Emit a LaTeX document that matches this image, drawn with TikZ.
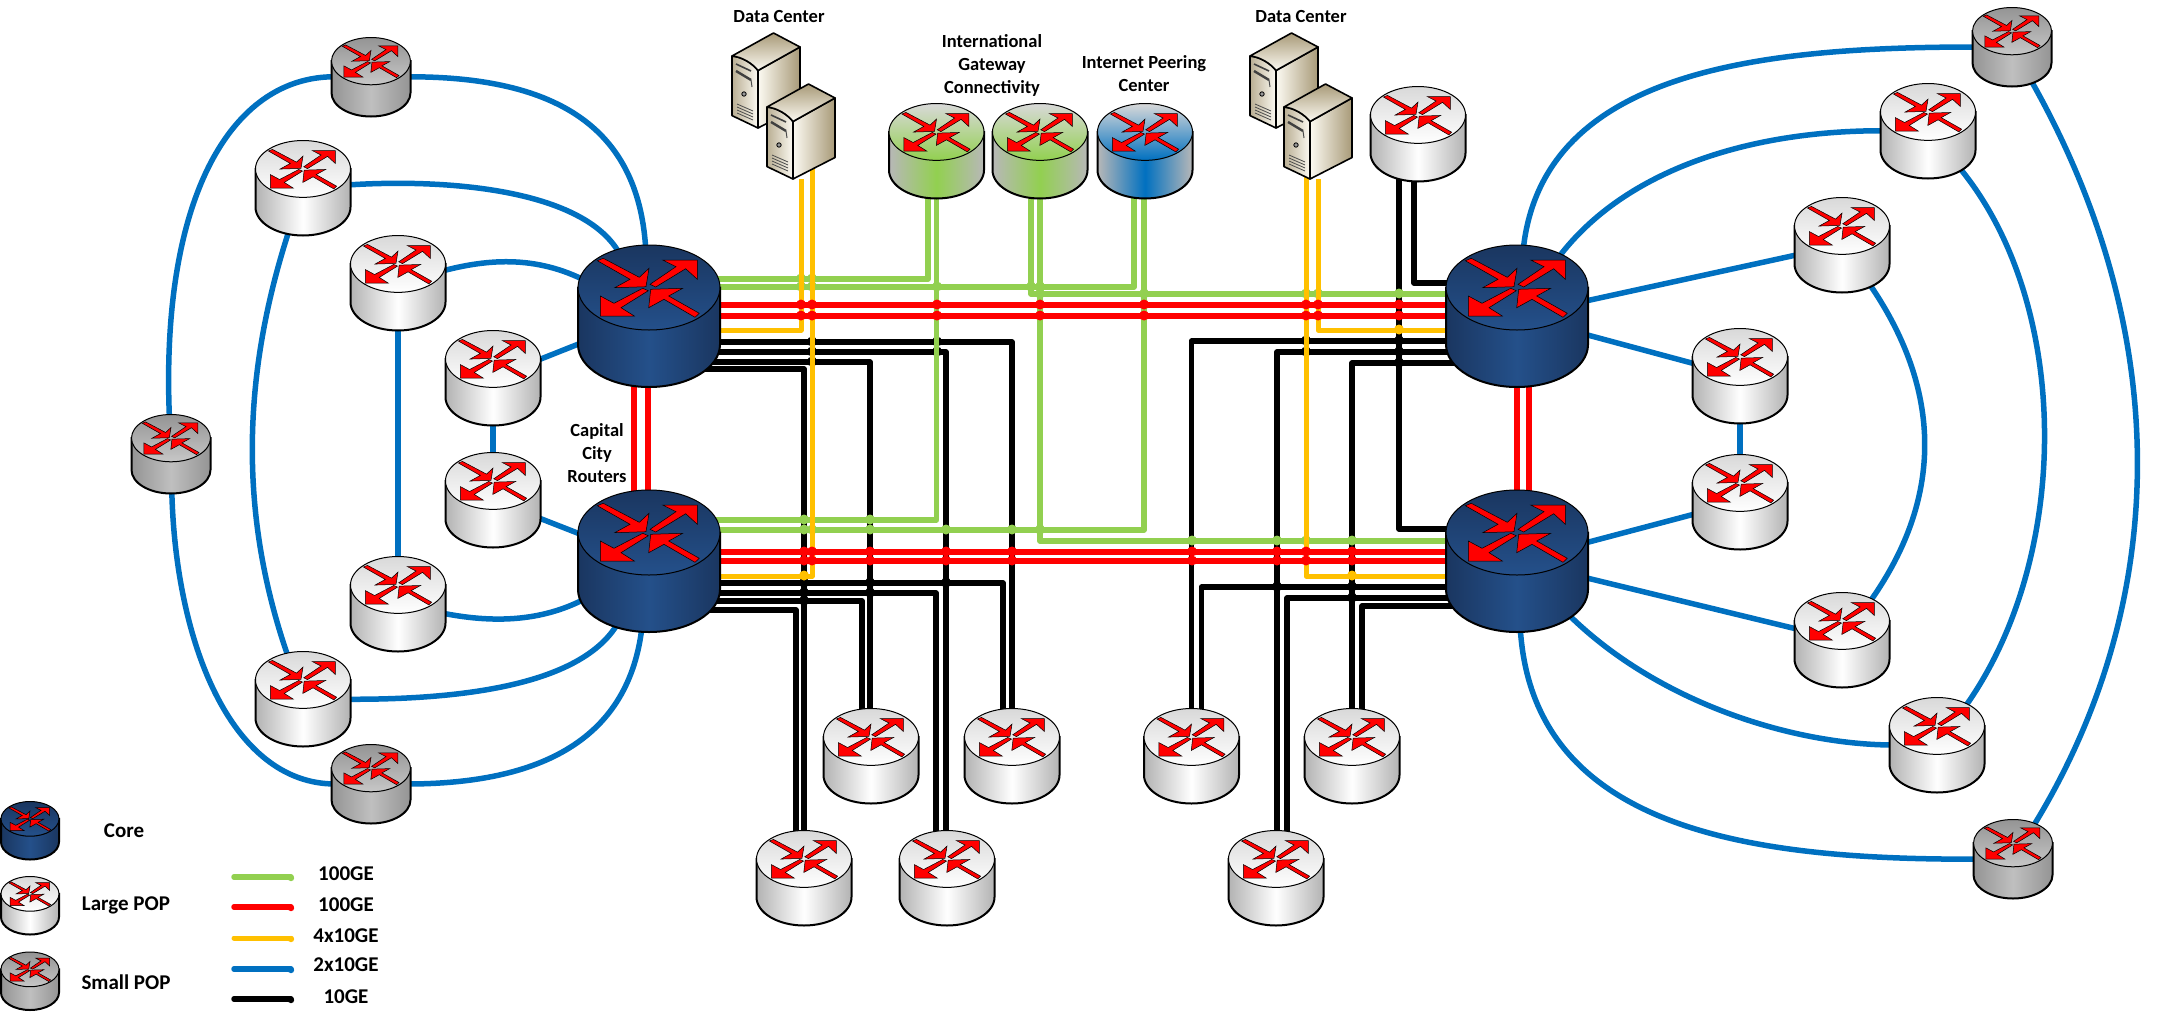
\documentclass[tikz,border=0pt]{standalone}
\usepackage{fontspec}
\setmainfont{Carlito}
\usetikzlibrary{calc}
\pgfdeclarelayer{links}
\pgfsetlayers{links,main}

\tikzset{
    coreside/.style={left color=coreedge,right color=coreedge,middle color=corelight},
    coretop/.style={top color=coreedge,bottom color=corelight},
    largeside/.style={left color=black!30,right color=black!30,middle color=white},
    largetop/.style={top color=black!15,bottom color=white},
    smallside/.style={left color=black!42,right color=black!42,middle color=black!25},
    smalltop/.style={top color=black!42,bottom color=black!22},
    gateside/.style={left color=black!28,right color=black!28,middle color=gegreen},
    gatetop/.style={top color=black!15,bottom color=gegreen},
    peerside/.style={left color=black!28,right color=black!28,middle color=geblue},
    peertop/.style={top color=black!15,bottom color=geblue},
    routerbox/.style={circle,inner sep=0pt,outer sep=0pt},
    routerarrow/.style={fill=red,draw=black,line width=.5pt,line join=miter},
    srvbox/.style={rectangle,inner sep=0pt,outer sep=0pt,minimum width=68pt,minimum height=95pt},
    srvface/.style={draw=black,line width=1.6pt,line join=round},
}

% name, x, y, width, palette
\newcommand{\router}[5]{
    \node[routerbox,minimum size={#4pt*0.9}] (#1) at (#2,#3) {};
    \begin{scope}[shift={(#2,#3)},scale={#4/142}]
        \path[draw=black,line width=2pt,#5side] (-71,-28.5) -- (-71,28.5) .. controls (-71,52) and (-39.2,71) .. (0,71)
            .. controls (39.2,71) and (71,52) .. (71,28.5) -- (71,-28.5) -- cycle;
        \path[draw=black,line width=1pt,#5top] (0,-28.5) ellipse [x radius=71,y radius=42.5];
        \filldraw[routerarrow] (-51.7,-55.3) -- (-45.7,-57.7) -- (-9.7,-38.7) -- (0,-47.7) -- (-3,-29.3) -- (-34.3,-28.3) -- (-19,-36.7) -- cycle;
        \filldraw[routerarrow] (1,-31.7) -- (6.7,-29) -- (36.7,-47.3) -- (48.3,-36.7) -- (48.3,-56) -- (13.7,-56) -- (27,-49.3) -- cycle;
        \filldraw[routerarrow] (-6.3,-27.7) -- (-0.7,-25.3) -- (-28,-8.3) -- (-14.7,0) -- (-48.7,0) -- (-48.7,-20) -- (-35,-12.7) -- cycle;
        \filldraw[routerarrow] (50.3,-2.7) -- (46,1.3) -- (15,-16.7) -- (-0.3,-8.3) -- (1.7,-26.7) -- (33.7,-27.7) -- (19.7,-20) -- cycle;
    \end{scope}
}

% name, left, top
\newcommand{\server}[3]{
    \node[srvbox] (#1) at (#2+34,#3+47.5) {};
    \begin{scope}[shift={(#2,#3)}]
        \path[srvface,left color=srvlight,right color=srvdark] (26,37.5) -- (68,14) -- (68,73.5) -- (26,95) -- cycle;
        \path[srvface,left color=srvdark!80,right color=srvlight] (0,23) .. controls (10,24) and (20,30) .. (26,37.5) -- (26,95) -- (0,82.6) -- cycle;
        \path[srvface,top color=srvdark,bottom color=srvlight] (0,23) -- (41.5,0) -- (68,14) -- (26,37.5) .. controls (20,30) and (10,24) .. (0,23) -- cycle;
        \draw[line width=1.6pt,black!75] (4,31) -- (19,38);
        \draw[line width=2.4pt,black!75] (4,38) -- (19,47);
        \draw[line width=1pt,black!70] (19,47) -- (20,54);
        \draw[line width=.8pt,fill=black!40] (12,61) circle[radius=2.2pt];
        \foreach \vy in {71,74,77,80}
            \draw[line width=.8pt,black!70] (5,\vy) -- (21,\vy+7);
    \end{scope}
}

\begin{document}
\begin{tikzpicture}[x=1pt,y=-1pt]
    \definecolor{gegreen}{RGB}{146,208,80}
    \definecolor{gered}{RGB}{255,0,0}
    \definecolor{geyellow}{RGB}{255,192,0}
    \definecolor{geblue}{RGB}{0,112,192}
    \definecolor{coreedge}{RGB}{26,54,96}
    \definecolor{corelight}{RGB}{36,80,138}
    \definecolor{srvlight}{RGB}{252,250,242}
    \definecolor{srvdark}{RGB}{168,154,120}

    \tikzstyle{gline}=[draw=gegreen,line width=5.5pt,line join=round]
    \tikzstyle{rline}=[draw=gered,line width=5.5pt,line join=round]
    \tikzstyle{yline}=[draw=geyellow,line width=5pt,line join=round]
    \tikzstyle{bline}=[draw=geblue,line width=5.5pt,line join=round]
    \tikzstyle{kline}=[draw=black,line width=5.5pt,line join=round]
    \tikzstyle{tag}=[inner sep=0pt,align=center,text=black,font=\fontsize{18.5}{22.6}\selectfont\bfseries]
    \tikzstyle{keytag}=[inner sep=0pt,align=center,text=black,font=\fontsize{21}{25}\selectfont\bfseries]

    \useasboundingbox (0,0) rectangle (2168,1020);

    % core
    \router{cTL}{649}{316}{142}{core}
    \router{cBL}{649}{561}{142}{core}
    \router{cTR}{1517}{316}{142}{core}
    \router{cBR}{1517}{561}{142}{core}

    % left side
    \router{sT}{371}{77}{79}{small}
    \router{sB}{371}{784}{79}{small}
    \router{sL}{171}{454}{79}{small}
    \router{la}{303}{188}{95}{large}
    \router{lb}{398}{283}{95}{large}
    \router{lc}{493}{378}{95}{large}
    \router{ld}{493}{500}{95}{large}
    \router{le}{398}{604}{95}{large}
    \router{lf}{303}{699}{95}{large}

    % bottom
    \router{ba}{871}{756}{95}{large}
    \router{bb}{1012}{756}{95}{large}
    \router{bc}{804}{878}{95}{large}
    \router{bd}{947}{878}{95}{large}
    \router{be}{1191.5}{756}{95}{large}
    \router{bf}{1352}{756}{95}{large}
    \router{bg}{1276}{878}{95}{large}

    % right side
    \router{sTR}{2012}{47}{79}{small}
    \router{sBR}{2013}{859}{79}{small}
    \router{ra}{1928}{131}{95}{large}
    \router{rb}{1842}{245}{95}{large}
    \router{rc}{1740}{376}{95}{large}
    \router{rd}{1740}{502}{95}{large}
    \router{re}{1842}{640}{95}{large}
    \router{rf}{1937}{745}{95}{large}

    % top
    \router{top}{1418}{134}{95}{large}
    \router{igwA}{936.5}{151}{95}{gate}
    \router{igwB}{1040}{151}{95}{gate}
    \router{ipc}{1145}{151}{95}{peer}
    \server{srvA}{732}{33}
    \server{srvB}{767}{84}
    \server{srvC}{1250}{33}
    \server{srvD}{1284}{84}

    % labels
    \node[tag] (dcA) at (779,17) {Data Center};
    \node[tag] (dcB) at (1301,17) {Data Center};
    \node[tag] (igwtag) at (992,65.5) {International\\Gateway\\Connectivity};
    \node[tag] (ipctag) at (1144,73.5) {Internet Peering\\Center};
    \node[tag] (captag) at (597,453) {Capital\\City\\Routers};

    % key
    \router{kC}{30}{830.5}{58}{core}
    \router{kL}{30}{905.5}{58}{large}
    \router{kS}{30}{981}{58}{small}
    \node[keytag] (kCt) at (124,831) {Core};
    \node[keytag] (kLt) at (126,905) {Large POP};
    \node[keytag] (kSt) at (126,982) {Small POP};
    \foreach \kn/\ks/\kc/\ky/\kty/\kt in {a/gline/gegreen/877/874/100GE,b/rline/gered/907/905/100GE,c/yline/geyellow/938/936/4x10GE,d/bline/geblue/969/965/2x10GE,e/kline/black/999/997/10GE}{
        \coordinate (k\kn1) at (234,\ky);
        \coordinate (k\kn2) at (291,\ky);
        \draw[\ks,line cap=round] (k\kn1) -- (k\kn2);
        \fill[\kc] (291,\ky+1) circle[radius=3.2pt];
        \node[keytag] (k\kn t) at (346,\kty) {\kt};
    }

    \begin{pgfonlayer}{links}
        % 10GE
        \draw[kline] ($(cTL)+(0,53)$) -| (bc);
        \draw[kline] ($(cTL)+(0,46)$) -| ($(ba)+(-1,0)$);
        \draw[kline] ($(cTL)+(0,36)$) -| ($(bd)+(-1,0)$);
        \draw[kline] ($(cTL)+(0,26)$) -| (bb);
        \draw[kline] ($(cBL)+(0,49)$) -| ($(bc)+(-8,0)$);
        \draw[kline] ($(cBL)+(0,40)$) -| ($(ba)+(-9,0)$);
        \draw[kline] ($(cBL)+(0,32)$) -| ($(bd)+(-11,0)$);
        \draw[kline] ($(cBL)+(0,22)$) -| ($(bb)+(-9,0)$);
        \draw[kline] ($(cTR)+(0,25)$) -| (be);
        \draw[kline] ($(cTR)+(0,36)$) -| ($(bg)+(1,0)$);
        \draw[kline] ($(cTR)+(0,47)$) -| (bf);
        \draw[kline] ($(cBR)+(0,26)$) -| ($(be)+(10,0)$);
        \draw[kline] ($(cBR)+(0,37)$) -| ($(bg)+(11,0)$);
        \draw[kline] ($(cBR)+(0,45)$) -| ($(bf)+(10,0)$);
        \draw[kline] ($(cTR)+(0,-33)$) -| ($(top)+(-4,0)$);
        \draw[kline] ($(cBR)+(0,-32)$) -| ($(top)+(-19,0)$);
        \foreach \hx/\hy in {812/342,937/342,812/352,937/352,812/362,804/583,870/583,946/583,804/593,870/593,804/601,1306/341,1399/341,1306/352,1399/352,1399/363,1277/587,1352/587,1352/598}
            \fill[black] (\hx,\hy-.5) circle[radius=5pt];

        % 100GE green
        \draw[gline] ($(cTL)+(0,-37)$) -| ($(igwA)+(-8.5,0)$);
        \draw[gline] ($(cTL)+(0,-29)$) -| ($(ipc)+(-11,0)$);
        \draw[gline] ($(cBL)+(0,-41)$) -| (igwA);
        \draw[gline] ($(cBL)+(0,-31)$) -| ($(ipc)+(-1,0)$);
        \draw[gline] ($(cTR)+(0,-22)$) -| ($(igwB)+(-9,0)$);
        \draw[gline] ($(cBR)+(0,-20)$) -| (igwB);
        \foreach \hx/\hy in {801/279,812/279,801/287,812/287,937/287,1031/287,1040/287,1040/294,1144/294,1306/294,1318/294,1399/294,804/520,870/520,804/530,812/530,870/530,946/530,1012/530,1040/530,1192/541,1277/541,1306/541,1352/541}
            \fill[gegreen] (\hx,\hy-.5) circle[radius=5pt];

        % 4x10GE
        \draw[yline] ($(cTL)+(0,14)$) -| (srvB);
        \draw[yline] ($(cBL)+(0,15)$) -| ($(srvB)+(11,0)$);
        \draw[yline] ($(cTR)+(0,14)$) -| (srvD);
        \draw[yline] ($(cBR)+(0,15)$) -| ($(srvD)+(-12,0)$);
        \foreach \hx/\hy in {804/576,1399/330,1352/576}
            \fill[geyellow] (\hx,\hy-.5) circle[radius=5pt];

        % 100GE red
        \draw[rline] ($(cTL)+(0,-11)$) -- ($(cTR)+(0,-11)$);
        \draw[rline] (cTL) -- (cTR);
        \draw[rline] ($(cBL)+(0,-9)$) -- ($(cBR)+(0,-9)$);
        \draw[rline] (cBL) -- (cBR);
        \draw[rline] ($(cTL)+(-15,0)$) -- ($(cBL)+(-15,0)$);
        \draw[rline] ($(cTL)+(-1,0)$) -- ($(cBL)+(-1,0)$);
        \draw[rline] (cTR) -- (cBR);
        \draw[rline] ($(cTR)+(12,0)$) -- ($(cBR)+(12,0)$);
        \foreach \hy in {305,316}
            \foreach \hx in {801,812,937,1040,1144,1306,1318,1399}
                \fill[gered] (\hx,\hy-.5) circle[radius=5pt];
        \foreach \hy in {552,561}
            \foreach \hx in {804,812,870,946,1012,1192,1277,1306,1352}
                \fill[gered] (\hx,\hy-.5) circle[radius=5pt];

        % 2x10GE left
        \draw[bline] (sT) .. controls (560,76) and (640,130) .. (cTL);
        \draw[bline] (la) .. controls (450,178) and (590,190) .. (cTL);
        \draw[bline] (lb) .. controls (490,258) and (540,255) .. (cTL);
        \draw[bline] (lc) -- (cTL);
        \draw[bline] (ld) -- (cBL);
        \draw[bline] (le) .. controls (500,625) and (550,620) .. (cBL);
        \draw[bline] (lf) .. controls (480,700) and (590,680) .. (cBL);
        \draw[bline] (sB) .. controls (540,784) and (630,740) .. (cBL);
        \draw[bline] (sL) .. controls (160,200) and (230,76) .. (sT);
        \draw[bline] (sL) .. controls (175,640) and (230,784) .. (sB);
        \draw[bline] (la) .. controls (240,380) and (240,520) .. (lf);
        \draw[bline] (lb) -- (le);
        \draw[bline] (lc) -- (ld);

        % 2x10GE right
        \draw[bline] (sTR) .. controls (1760,47) and (1540,70) .. (cTR);
        \draw[bline] (ra) .. controls (1750,130) and (1620,170) .. (cTR);
        \draw[bline] (rb) -- (cTR);
        \draw[bline] (rc) -- (cTR);
        \draw[bline] (rd) -- (cBR);
        \draw[bline] (re) -- (cBR);
        \draw[bline] (rf) .. controls (1790,745) and (1650,700) .. (cBR);
        \draw[bline] (sBR) .. controls (1750,860) and (1530,830) .. (cBR);
        \draw[bline] (sTR) .. controls (2173,330) and (2173,600) .. (sBR);
        \draw[bline] (ra) .. controls (2073,300) and (2073,560) .. (rf);
        \draw[bline] (rb) .. controls (1944,390) and (1944,500) .. (re);
        \draw[bline] (rc) -- (rd);
    \end{pgfonlayer}
\end{tikzpicture}
\end{document}
